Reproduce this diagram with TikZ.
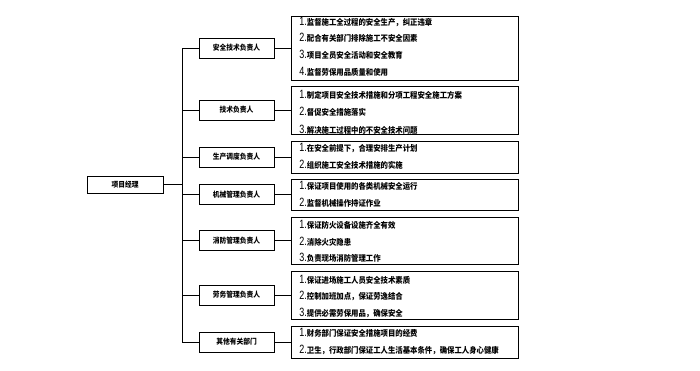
\documentclass[tikz,border=0pt]{standalone}
\usepackage{fontspec}
\newfontfamily\cjk[FakeStretch=0.9]{Noto Sans CJK SC}
\newfontfamily\numf[FakeStretch=0.75]{Liberation Sans}
\newcommand{\nm}[1]{{\numf\mdseries\fontsize{12}{12}\selectfont #1}}
\begin{document}
\begin{tikzpicture}[x=1pt,y=-1pt,line width=0.8pt,
  rolebox/.style={draw,minimum width=75pt,minimum height=20pt,inner sep=0pt,font=\cjk\bfseries\fontsize{7.5}{9}\selectfont},
  detbox/.style={draw,minimum width=227pt,inner sep=0pt},
  item/.style={anchor=west,inner sep=0pt,font=\cjk\bfseries\fontsize{8.2}{9}\selectfont}]
\useasboundingbox (0,0) rectangle (700,370);
% root
\node[rolebox,minimum width=76pt,minimum height=17pt] (root) at (125,184.5) {项目经理};
% roles
\node[rolebox] (r1) at (236.5,48) {安全技术负责人};
\node[rolebox] (r2) at (236.5,110) {技术负责人};
\node[rolebox] (r3) at (236.5,157) {生产调度负责人};
\node[rolebox] (r4) at (236.5,194.5) {机械管理负责人};
\node[rolebox] (r5) at (236.5,240.5) {消防管理负责人};
\node[rolebox] (r6) at (236.5,295) {劳务管理负责人};
\node[rolebox] (r7) at (236.5,342) {其他有关部门};
% detail boxes
\node[detbox,minimum height=64pt] (d1) at (404.5,48) {};
\node[detbox,minimum height=48pt] (d2) at (404.5,110) {};
\node[detbox,minimum height=32pt] (d3) at (404.5,157) {};
\node[detbox,minimum height=31pt] (d4) at (404.5,194.5) {};
\node[detbox,minimum height=47pt] (d5) at (404.5,240.5) {};
\node[detbox,minimum height=48pt] (d6) at (404.5,295) {};
\node[detbox,minimum height=32pt] (d7) at (404.5,342) {};
% items
\node[item] (i11) at (299,22) {\nm{1.}监督施工全过程的安全生产，纠正违章};
\node[item] (i12) at (299,38) {\nm{2.}配合有关部门排除施工不安全因素};
\node[item] (i13) at (299,55) {\nm{3.}项目全员安全活动和安全教育};
\node[item] (i14) at (299,72) {\nm{4.}监督劳保用品质量和使用};
\node[item] (i21) at (299,95) {\nm{1.}制定项目安全技术措施和分项工程安全施工方案};
\node[item] (i22) at (299,112) {\nm{2.}督促安全措施落实};
\node[item] (i23) at (299,130) {\nm{3.}解决施工过程中的不安全技术问题};
\node[item] (i31) at (299,148) {\nm{1.}在安全前提下，合理安排生产计划};
\node[item] (i32) at (299,165) {\nm{2.}组织施工安全技术措施的实施};
\node[item] (i41) at (299,186) {\nm{1.}保证项目使用的各类机械安全运行};
\node[item] (i42) at (299,203) {\nm{2.}监督机械操作持证作业};
\node[item] (i51) at (299,225) {\nm{1.}保证防火设备设施齐全有效};
\node[item] (i52) at (299,242) {\nm{2.}消除火灾隐患};
\node[item] (i53) at (299,258) {\nm{3.}负责现场消防管理工作};
\node[item] (i61) at (299,280) {\nm{1.}保证进场施工人员安全技术素质};
\node[item] (i62) at (299,296) {\nm{2.}控制加班加点，保证劳逸结合};
\node[item] (i63) at (299,313) {\nm{3.}提供必需劳保用品，确保安全};
\node[item] (i71) at (299,333) {\nm{1.}财务部门保证安全措施项目的经费};
\node[item] (i72) at (299,350) {\nm{2.}卫生，行政部门保证工人生活基本条件，确保工人身心健康};
% trunk
\coordinate (t0) at (182,184.5);
\coordinate (t1) at (182,48);
\coordinate (t2) at (182,110);
\coordinate (t3) at (182,157);
\coordinate (t4) at (182,194.5);
\coordinate (t5) at (182,240.5);
\coordinate (t6) at (182,295);
\coordinate (t7) at (182,342);
\draw (r1.west) -- (t1) -- (t7) -- (r7.west);
\draw (root.east) -- (t0);
\foreach \k in {2,...,6} \draw (t\k) -- (r\k.west);
\foreach \k in {1,...,7} \draw (r\k.east) -- (d\k.west);
\end{tikzpicture}
\end{document}
